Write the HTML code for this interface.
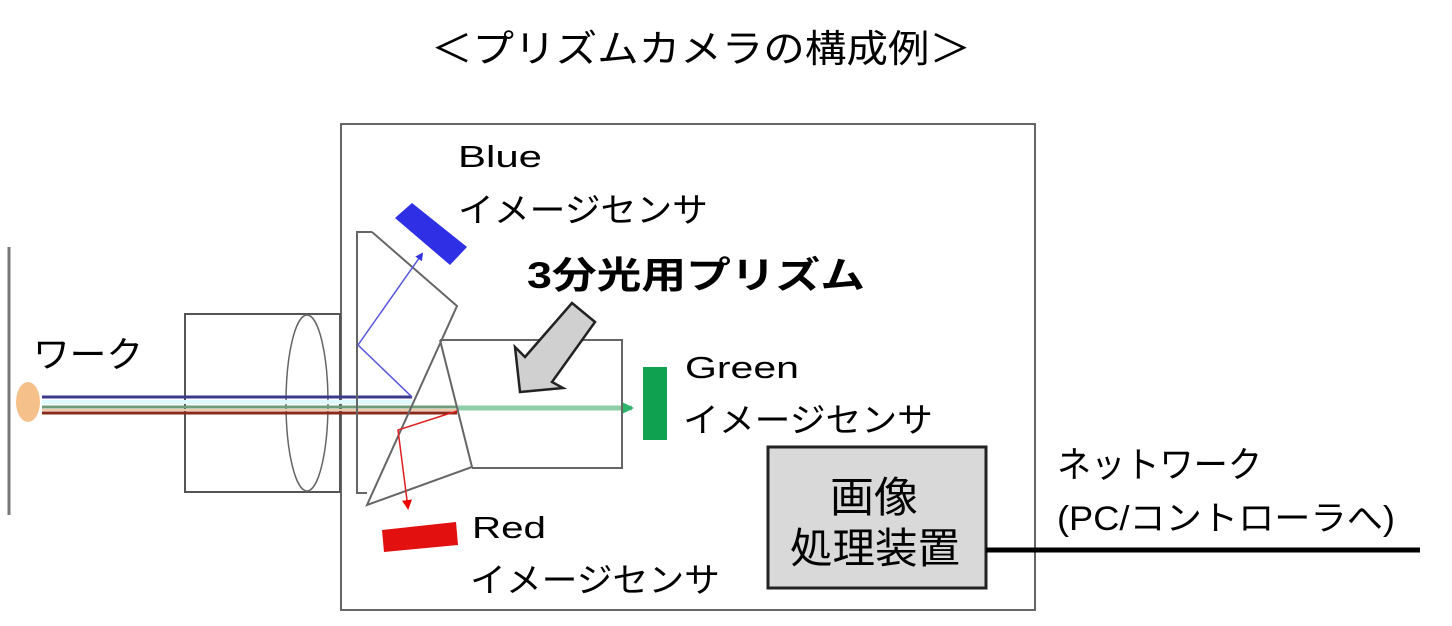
<!DOCTYPE html>
<html><head><meta charset="utf-8"><style>
html,body{margin:0;padding:0;background:#fff;}
svg{display:block}
text{font-family:"Liberation Sans","Noto Sans CJK JP",sans-serif;fill:#000}
</style></head><body>
<svg width="1452" height="626" viewBox="0 0 1452 626" xmlns="http://www.w3.org/2000/svg">
<defs>
<marker id="ab" markerWidth="8" markerHeight="8" refX="6" refY="4" orient="auto" markerUnits="userSpaceOnUse"><path d="M0,0 L8,4 L0,8 z" fill="#3333dd"/></marker>
<marker id="ar" markerWidth="10" markerHeight="10" refX="8" refY="5" orient="auto" markerUnits="userSpaceOnUse"><path d="M0,0 L10,5 L0,10 z" fill="#e00"/></marker>
<marker id="ag" markerWidth="12" markerHeight="12" refX="10" refY="6" orient="auto" markerUnits="userSpaceOnUse"><path d="M0,0 L12,6 L0,12 z" fill="#2bb36a"/></marker>
</defs>
<text x="431" y="62" font-size="38" textLength="540" lengthAdjust="spacingAndGlyphs">＜プリズムカメラの構成例＞</text>
<!-- work -->
<line x1="9" y1="247" x2="9" y2="515" stroke="#777" stroke-width="3"/>
<text x="33" y="367" font-size="36" textLength="110" lengthAdjust="spacingAndGlyphs">ワーク</text>
<!-- camera box -->
<rect x="341" y="124" width="694" height="486" fill="none" stroke="#666" stroke-width="2"/>
<!-- lens -->
<rect x="185" y="314" width="155" height="178" fill="none" stroke="#555" stroke-width="2"/>
<ellipse cx="307" cy="403" rx="21" ry="88" fill="none" stroke="#666" stroke-width="1.5"/>
<!-- beams -->
<rect x="42" y="400" width="370" height="4" fill="#dff8fb"/>
<line x1="42" y1="397" x2="412" y2="397" stroke="#3a3a8a" stroke-width="3"/>
<line x1="42" y1="407" x2="457" y2="407" stroke="#6f9c7a" stroke-width="3"/>
<line x1="42" y1="410" x2="457" y2="410" stroke="#f2c9a8" stroke-width="2"/>
<line x1="42" y1="413" x2="457" y2="413" stroke="#8b2a1a" stroke-width="3"/>
<line x1="457" y1="408" x2="632" y2="408" stroke="#8fcca8" stroke-width="5" marker-end="url(#ag)"/>
<ellipse cx="28" cy="402" rx="12" ry="20" fill="#f5c08a"/>
<!-- prism -->
<g fill="none" stroke="#666" stroke-width="2">
<polyline points="372,232 357,232 357,493 367,493"/>
<polyline points="372,232 457,306 367,505 472,467 440,340"/>
<polyline points="440,340 622,340 622,468 472,468"/>
</g>
<!-- blue path -->
<polyline points="412,397 358,345 422,254" fill="none" stroke="#5555dd" stroke-width="1.5" marker-end="url(#ab)"/>
<polygon points="395,218 412,203 467,247 450,265" fill="#2f2fe6"/>
<!-- red path -->
<polyline points="457,411 398,430 408,508" fill="none" stroke="#e02020" stroke-width="1.5" marker-end="url(#ar)"/>
<polygon points="382,530 456,522 458,545 384,552" fill="#e31010"/>
<!-- green sensor -->
<rect x="643" y="367" width="24" height="73" fill="#0fa050"/>
<!-- big arrow -->
<polygon points="572,303 595,322 552,382 563,388 520,392 515,347 525,357" fill="#d0d0d0" stroke="#222" stroke-width="2.5"/>
<!-- labels -->
<text x="458" y="167" font-size="31" textLength="84" lengthAdjust="spacingAndGlyphs">Blue</text>
<text x="458" y="222" font-size="34" textLength="250" lengthAdjust="spacingAndGlyphs">イメージセンサ</text>
<text x="527" y="288" font-size="37" font-weight="bold" textLength="338" lengthAdjust="spacingAndGlyphs">3分光用プリズム</text>
<text x="685" y="378" font-size="31" textLength="114" lengthAdjust="spacingAndGlyphs">Green</text>
<text x="683" y="432" font-size="34" textLength="250" lengthAdjust="spacingAndGlyphs">イメージセンサ</text>
<text x="472" y="538" font-size="31" textLength="74" lengthAdjust="spacingAndGlyphs">Red</text>
<text x="470" y="592" font-size="34" textLength="250" lengthAdjust="spacingAndGlyphs">イメージセンサ</text>
<!-- processing -->
<rect x="768" y="447" width="218" height="141" fill="#d9d9d9" stroke="#222" stroke-width="3"/>
<text x="830" y="512" font-size="42" textLength="88" lengthAdjust="spacingAndGlyphs">画像</text>
<text x="790" y="563" font-size="42" textLength="170" lengthAdjust="spacingAndGlyphs">処理装置</text>
<line x1="986" y1="550" x2="1420" y2="550" stroke="#000" stroke-width="5"/>
<text x="1057" y="477" font-size="36" textLength="205" lengthAdjust="spacingAndGlyphs">ネットワーク</text>
<text x="1057" y="530" font-size="34" textLength="338" lengthAdjust="spacingAndGlyphs">(PC/コントローラへ)</text>
</svg>
</body></html>
